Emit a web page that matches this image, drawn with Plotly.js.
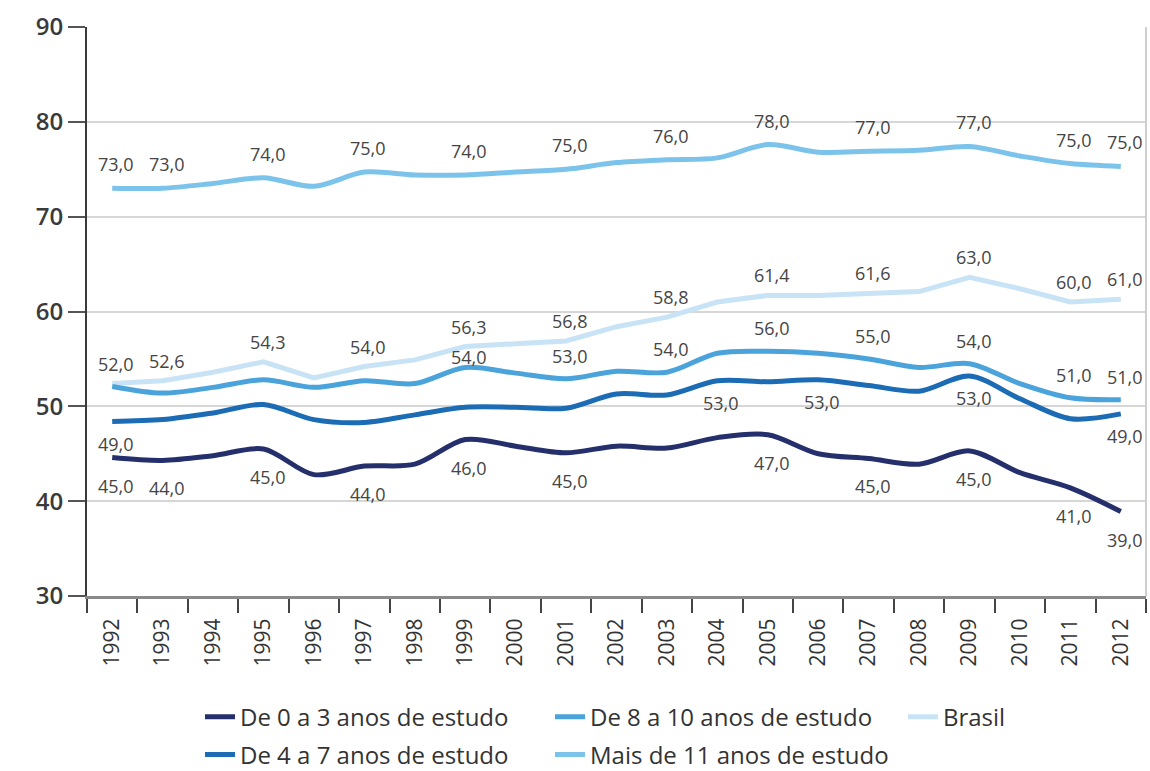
<!DOCTYPE html>
<html>
<head>
<meta charset="utf-8">
<script src="https://cdn.plot.ly/plotly-3.0.1.min.js"></script>
<style>html,body{margin:0;padding:0;background:#fff;}#chart{width:1150px;height:771px;}</style>
</head>
<body>
<div id="chart"></div>
<script>
const years = ["1992","1993","1994","1995","1996","1997","1998","1999","2000","2001","2002","2003","2004","2005","2006","2007","2008","2009","2010","2011","2012"];

const seriesNames = ["De 0 a 3 anos de estudo","De 4 a 7 anos de estudo","De 8 a 10 anos de estudo","Mais de 11 anos de estudo","Brasil"];

const anos0a3  = [44.6,44.3,44.8,45.5,42.8,43.7,43.9,46.5,45.8,45.1,45.8,45.6,46.7,47.0,45.0,44.5,43.9,45.3,43.0,41.4,38.9];
const anos4a7  = [48.4,48.6,49.3,50.2,48.6,48.3,49.1,49.9,49.9,49.8,51.3,51.2,52.7,52.6,52.8,52.2,51.6,53.2,50.8,48.7,49.2];
const anos8a10 = [52.1,51.4,52.0,52.8,52.0,52.7,52.4,54.1,53.5,52.9,53.7,53.6,55.6,55.8,55.6,55.0,54.1,54.5,52.4,50.9,50.7];
const mais11   = [73.0,73.0,73.5,74.1,73.2,74.7,74.4,74.4,74.7,75.0,75.7,76.0,76.2,77.6,76.8,76.9,77.0,77.4,76.4,75.6,75.3];
const brasil   = [52.4,52.7,53.6,54.7,53.0,54.2,54.9,56.3,56.6,56.9,58.4,59.4,61.0,61.7,61.7,61.9,62.1,63.6,62.4,61.0,61.3];

const labels0a3  = ["45,0","44,0",null,"45,0",null,"44,0",null,"46,0",null,"45,0",null,null,null,"47,0",null,"45,0",null,"45,0",null,"41,0","39,0"];
const labels4a7  = ["49,0",null,null,null,null,null,null,null,null,null,null,null,"53,0",null,"53,0",null,null,"53,0",null,null,"49,0"];
const labels8a10 = [null,null,null,null,null,null,null,"54,0",null,"53,0",null,"54,0",null,"56,0",null,"55,0",null,"54,0",null,"51,0","51,0"];
const labelsMais11 = ["73,0","73,0",null,"74,0",null,"75,0",null,"74,0",null,"75,0",null,"76,0",null,"78,0",null,"77,0",null,"77,0",null,"75,0","75,0"];
const labelsBrasil = ["52,0","52,6",null,"54,3",null,"54,0",null,"56,3",null,"56,8",null,"58,8",null,"61,4",null,"61,6",null,"63,0",null,"60,0","61,0"];

const yTicks = [30,40,50,60,70,80,90];

const FONT = "Open Sans, Noto Sans, sans-serif";
const colors = {c03:"#242f6c", c47:"#1b6cb4", c810:"#4ba3db", m11:"#7cc3eb", br:"#c8e3f5"};

const W = 1150, H = 771;
const M = {l: 87, r: 4, t: 27, b: 175};
const yRange = [30, 90];
const pxPerUnit = (H - M.t - M.b) / (yRange[1] - yRange[0]);

// legend slot: column (0..2), row (0..1); shift = label offset in px (+ above, - below)
const series = [
  {key:"m11", name: seriesNames[3], y: mais11,   labels: labelsMais11, color: colors.m11,  shape:"spline", legend:"legend4", col:1, row:1, shift:24},
  {key:"br",  name: seriesNames[4], y: brasil,   labels: labelsBrasil, color: colors.br,   shape:"linear", legend:"legend5", col:2, row:0, shift:20},
  {key:"810", name: seriesNames[2], y: anos8a10, labels: labels8a10,   color: colors.c810, shape:"spline", legend:"legend3", col:1, row:0, shift:23, avoid:"br"},
  {key:"47",  name: seriesNames[1], y: anos4a7,  labels: labels4a7,    color: colors.c47,  shape:"spline", legend:"legend2", col:0, row:1, shift:-22},
  {key:"03",  name: seriesNames[0], y: anos0a3,  labels: labels0a3,    color: colors.c03,  shape:"spline", legend:"legend",  col:0, row:0, shift:-28}
];
const byKey = {};
series.forEach(s => byKey[s.key] = s);

const traces = series.map(s => ({
  type: "scatter", mode: "lines", x: years, y: s.y, name: s.name,
  line: {color: s.color, width: 5, shape: s.shape, smoothing: 0.9},
  legend: s.legend, hoverinfo: "x+y+name"
}));

const annotations = [];
series.forEach(s => {
  s.labels.forEach((t, i) => {
    if (t === null) return;
    let shift = s.shift;
    if (s.avoid) {
      const o = byKey[s.avoid];
      if (o.labels[i] !== null) {
        // keep at least 30px between label centres (simple collision avoidance)
        const gapLines = (o.y[i] - s.y[i]) * pxPerUnit;
        const centreGap = gapLines + o.shift - shift;
        if (centreGap < 30) shift = gapLines + o.shift - 30;
      }
    }
    annotations.push({
      x: i, y: s.y[i], xref: "x", yref: "y", text: t, showarrow: false,
      yshift: shift, xshift: 4,
      font: {family: FONT, size: 18, color: "#454545"}
    });
  });
});

const legendCols = [0.1067, 0.4372, 0.7705];
const legendRows = [-0.2127, -0.2794];

const layout = {
  width: W, height: H,
  margin: {l: M.l, r: M.r, t: M.t, b: M.b, autoexpand: false},
  paper_bgcolor: "#ffffff", plot_bgcolor: "#ffffff",
  showlegend: true,
  xaxis: {
    type: "category", categoryorder: "array", categoryarray: years,
    range: [-0.5, years.length - 0.5], autorange: false,
    tickson: "boundaries", ticks: "outside", ticklen: 14, tickwidth: 2, tickcolor: "#444",
    tickangle: -90, ticklabelstandoff: 11, showline: true, linecolor: "#8a8a8a", linewidth: 3,
    showgrid: false, zeroline: false,
    tickfont: {family: FONT, size: 21, color: "#333"}
  },
  yaxis: {
    range: yRange, autorange: false, tickvals: yTicks, ticktext: yTicks.map(String),
    ticks: "outside", ticklen: 17, tickwidth: 2, tickcolor: "#555",
    showline: true, linecolor: "#3a3a3a", linewidth: 2,
    showgrid: true, gridcolor: "#d6d6d6", gridwidth: 2, zeroline: false,
    tickfont: {family: FONT, size: 24, color: "#3a3a3a", weight: 600}
  },
  shapes: [
    {type: "line", xref: "paper", yref: "paper", x0: 1, x1: 1, y0: 0, y1: 1,
     line: {color: "#cfcfcf", width: 2}}
  ],
  annotations: annotations
};

series.forEach(s => {
  layout[s.legend] = {
    orientation: "h", x: legendCols[s.col], xanchor: "left",
    y: legendRows[s.row], yanchor: "middle",
    font: {family: FONT, size: 24, color: "#333"}, bgcolor: "rgba(0,0,0,0)",
    borderwidth: 0
  };
});

Plotly.newPlot("chart", traces, layout, {displayModeBar: false, staticPlot: true});
</script>
</body>
</html>
